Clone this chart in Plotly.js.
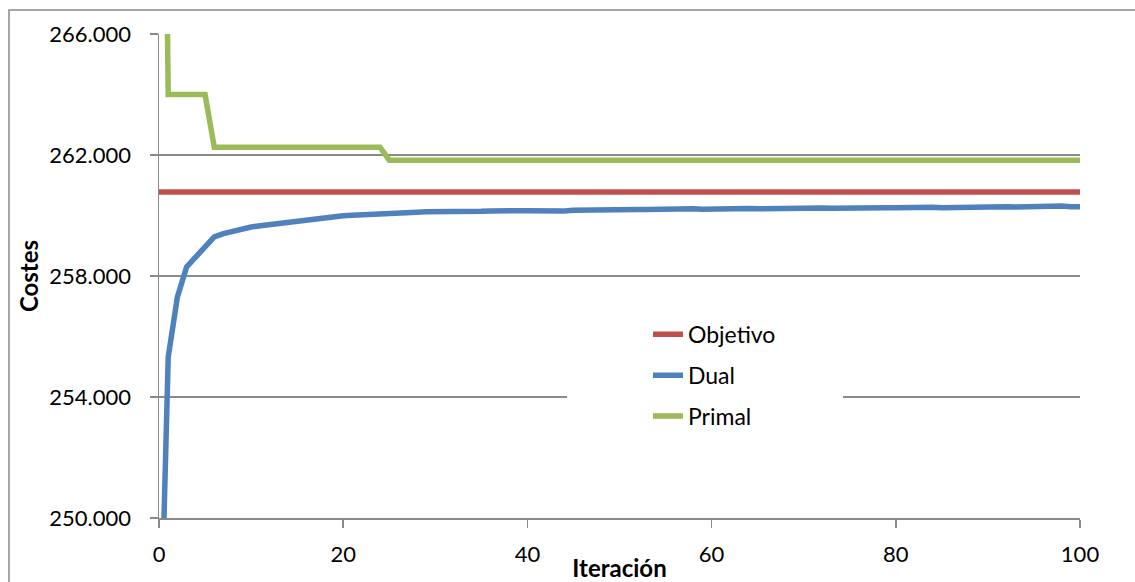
<!DOCTYPE html>
<html>
<head>
<meta charset="utf-8">
<script src="https://cdn.plot.ly/plotly-3.0.1.min.js"></script>
<style>html,body{margin:0;padding:0;background:#fff;}#chart{width:1135px;height:582px;}</style>
</head>
<body>
<div id="chart"></div>
<script>
const iteraciones = Array.from({length: 101}, (_, i) => i);
const objetivo = iteraciones.map(() => 260780);
const dual = [
  243700, 255320, 257310, 258300, 258630, 258960, 259290, 259400, 259480, 259550,
  259620, 259660, 259700, 259740, 259780, 259820, 259860, 259900, 259930, 259960,
  259990, 260010, 260030, 260050, 260070, 260080, 260090, 260090, 260110, 260120,
  260120, 260100, 260120, 260130, 260130, 260140, 260150, 260140, 260150, 260160,
  260160, 260150, 260170, 260170, 260150, 260170, 260180, 260180, 260180, 260190,
  260200, 260190, 260200, 260200, 260210, 260200, 260210, 260210, 260220, 260210,
  260220, 260220, 260230, 260230, 260230, 260220, 260230, 260240, 260230, 260240,
  260240, 260240, 260250, 260240, 260250, 260250, 260250, 260260, 260250, 260260,
  260260, 260270, 260260, 260270, 260270, 260260, 260270, 260280, 260270, 260280,
  260280, 260280, 260290, 260280, 260290, 260290, 260300, 260300, 260310, 260290,
  260290
];
const primal = [
  290000, 264000, 264000, 264000, 264000, 264000,
  262260, 262260, 262260, 262260, 262260, 262260, 262260, 262260, 262260, 262260,
  262260, 262260, 262260, 262260, 262260, 262260, 262260, 262260, 262260,
  261830, 261830, 261830, 261830, 261830, 261830, 261830, 261830, 261830, 261830,
  261830, 261830, 261830, 261830, 261830, 261830, 261830, 261830, 261830, 261830,
  261830, 261830, 261830, 261830, 261830, 261830, 261830, 261830, 261830, 261830,
  261830, 261830, 261830, 261830, 261830, 261830, 261830, 261830, 261830, 261830,
  261830, 261830, 261830, 261830, 261830, 261830, 261830, 261830, 261830, 261830,
  261830, 261830, 261830, 261830, 261830, 261830, 261830, 261830, 261830, 261830,
  261830, 261830, 261830, 261830, 261830, 261830, 261830, 261830, 261830, 261830,
  261830, 261830, 261830, 261830, 261830, 261830
];
const yTicks = [250000, 254000, 258000, 262000, 266000];
const xTicks = [0, 20, 40, 60, 80, 100];

const FONT = 'Lato, "Open Sans", sans-serif';
const GRID = '#8a8a8a';

const traces = [
  {x: iteraciones, y: objetivo, name: 'Objetivo', mode: 'lines', legendgroup: 'a',
   line: {color: '#C0504D', width: 5.5}},
  {x: iteraciones, y: dual, name: 'Dual', mode: 'lines', legendgroup: 'b',
   line: {color: '#4F81BD', width: 5.5}},
  {x: iteraciones, y: primal, name: 'Primal', mode: 'lines', legendgroup: 'c',
   line: {color: '#9BBB59', width: 5.5}}
];

const layout = {
  width: 1135, height: 582,
  margin: {l: 159, r: 55, t: 34, b: 64},
  paper_bgcolor: '#fff', plot_bgcolor: '#fff',
  separators: ',.',
  font: {family: FONT, size: 22, color: '#000'},
  showlegend: true,
  legend: {x: 0.5255 + 5/921, xanchor: 'left', y: 0.424, yanchor: 'top',
           bgcolor: 'rgba(255,255,255,0)', traceorder: 'grouped', tracegroupgap: 8,
           font: {family: FONT, size: 23, color: '#000'}},
  xaxis: {range: [0, 100], tickvals: xTicks, showgrid: false, zeroline: false,
          showline: true, linecolor: GRID, linewidth: 1.5,
          ticks: 'outside', ticklen: 8, tickcolor: GRID, tickwidth: 1.5,
          ticklabelstandoff: 8,
          title: {text: '<b>Iteración</b>', font: {family: FONT, size: 24}, standoff: 0}},
  yaxis: {range: [250000, 266000], tickvals: yTicks, tickformat: ',d',
          showgrid: true, gridcolor: GRID, gridwidth: 1.5, zeroline: false,
          showline: true, linecolor: GRID, linewidth: 1.5,
          ticks: 'outside', ticklen: 8, tickcolor: GRID, tickwidth: 1.5,
          ticklabelstandoff: 14,
          title: {text: '<b>Costes</b>', font: {family: FONT, size: 24}, standoff: 4}},
  shapes: [
    {type: 'rect', xref: 'paper', yref: 'paper', x0: (567-159)/921, x1: (843-159)/921,
     y0: (518-440)/484, y1: (518-315)/484, fillcolor: '#fff', line: {width: 0}, layer: 'above'},
    {type: 'rect', xref: 'paper', yref: 'paper', x0: (9-159)/921, x1: (1145-159)/921,
     y0: (518-600)/484, y1: (518-10)/484, fillcolor: 'rgba(0,0,0,0)',
     line: {color: GRID, width: 1.5}, layer: 'above'}
  ]
};

Plotly.newPlot('chart', traces, layout, {displayModeBar: false, staticPlot: true});
</script>
</body>
</html>
